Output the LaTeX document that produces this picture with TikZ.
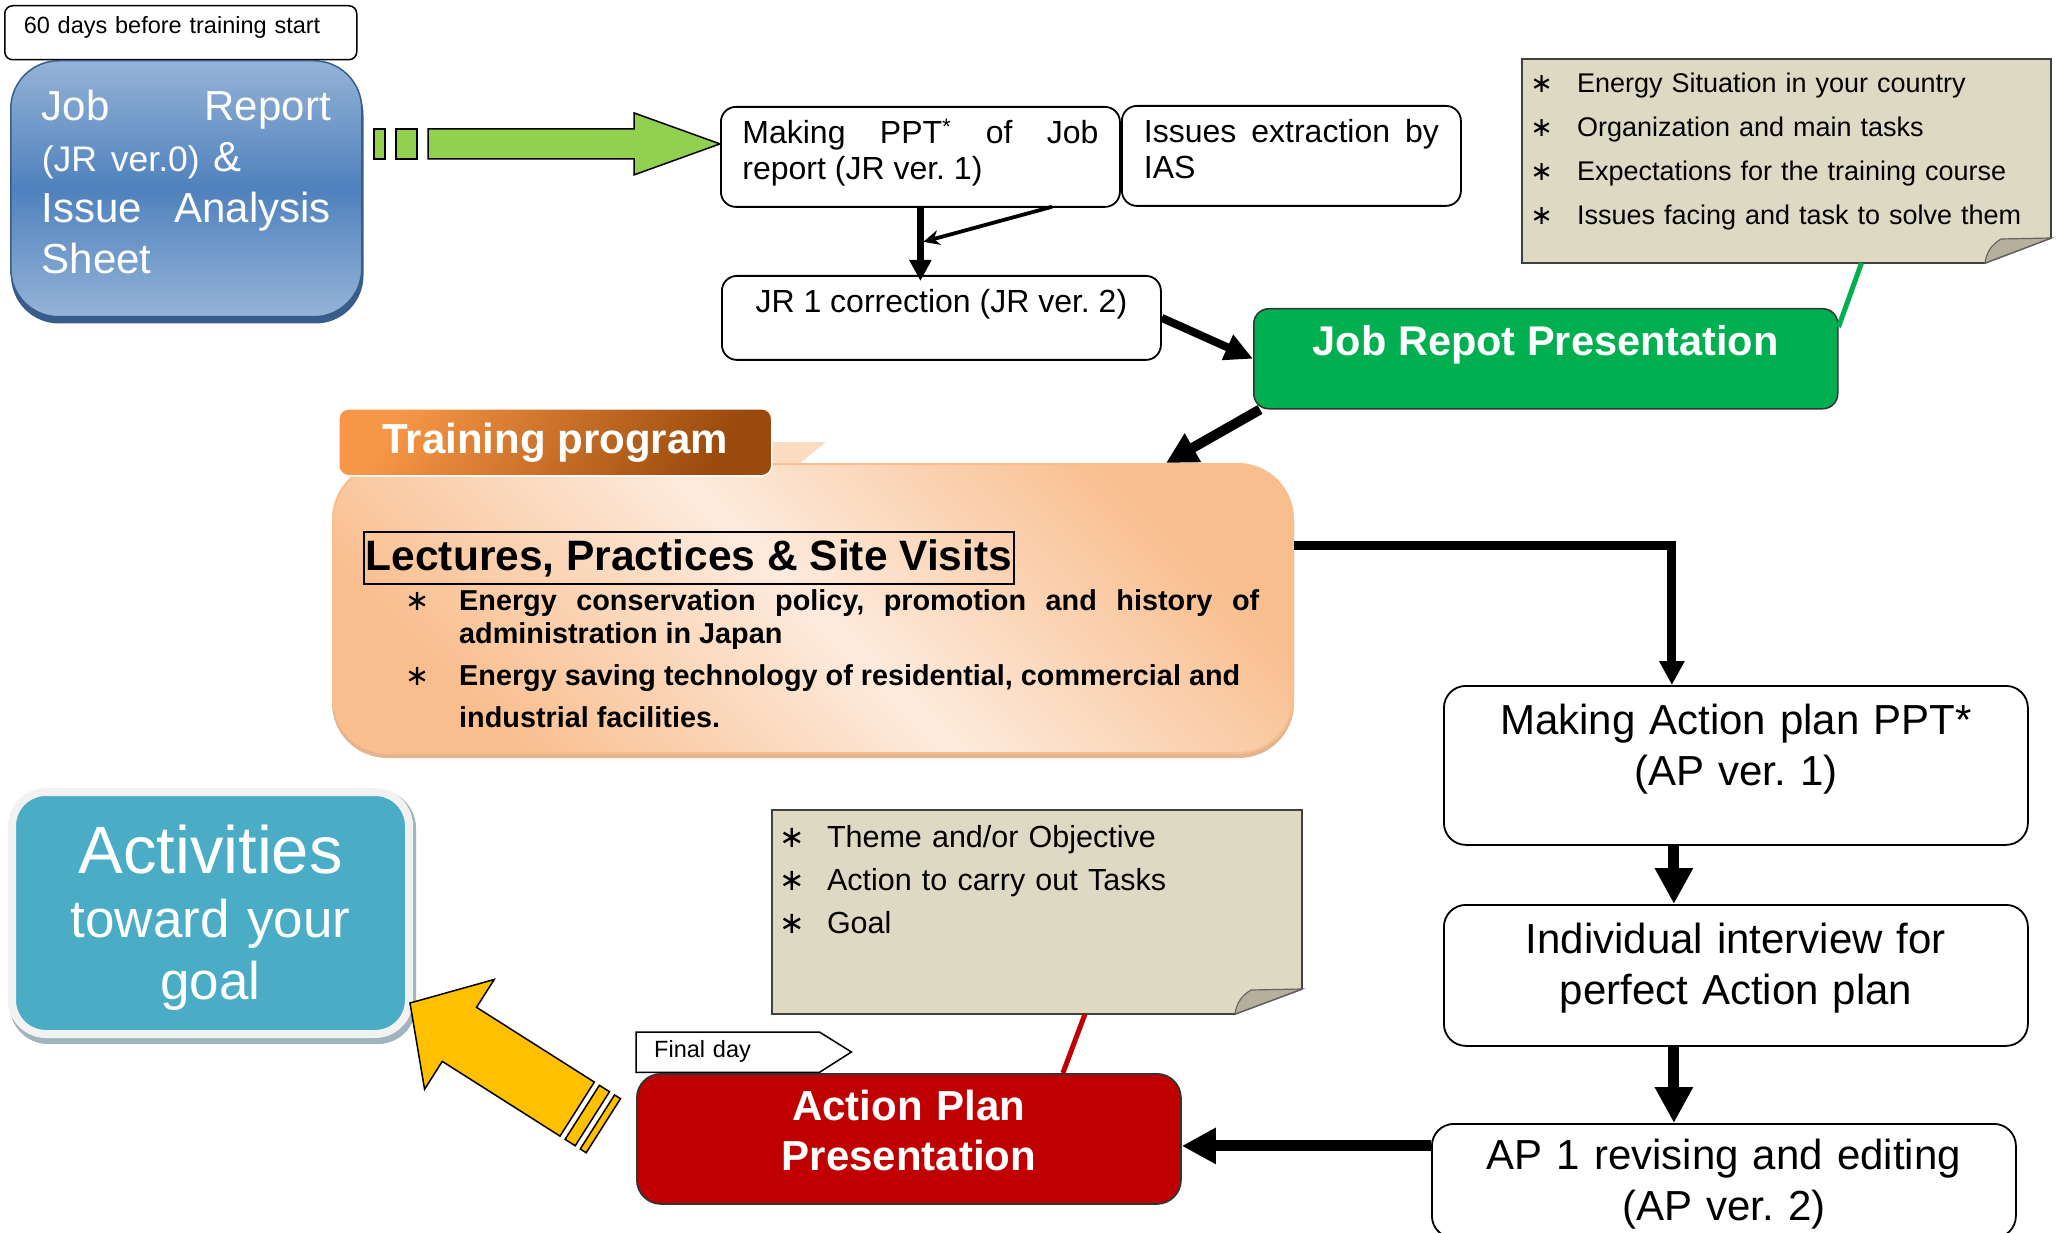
\documentclass[tikz,border=0pt]{standalone}
\usepackage{fontspec}
\setmainfont{Liberation Sans}
\newfontfamily\symfont{DejaVu Sans}
\usetikzlibrary{positioning, arrows.meta, calc, backgrounds}
\frenchspacing

\definecolor{jrblue}{HTML}{4F81BD}
\definecolor{jrbluelt}{HTML}{95B3D7}
\definecolor{jrblueedge}{HTML}{385D8A}
\definecolor{arrowgreen}{HTML}{92D050}
\definecolor{presgreen}{HTML}{00B050}
\definecolor{notetan}{HTML}{DDD9C3}
\definecolor{notefold}{HTML}{B5B09B}
\definecolor{taborange}{HTML}{F79646}
\definecolor{tabbrown}{HTML}{9A4A0C}
\definecolor{peachdk}{HTML}{F9BE8E}
\definecolor{peachlt}{HTML}{FDEBDD}
\definecolor{peachsh}{HTML}{E3B48E}
\definecolor{actteal}{HTML}{4BACC6}
\definecolor{actshadow}{HTML}{9FB4BD}
\definecolor{presred}{HTML}{C00000}
\definecolor{goalyellow}{HTML}{FFC000}

\newcommand{\fsz}[2]{\fontsize{#1}{#2}\selectfont}
\newcommand{\bul}[2]{\leavevmode\hspace*{#1pt}\llap{{\symfont\mdseries ∗}\hspace{#2pt}}}

\begin{document}
\begin{tikzpicture}[x=1pt, y=-1pt,
    tl/.style={anchor=north west, inner ysep=0pt},
    jrbox/.style={tl, draw, line width=1.8pt, rounded corners=15pt, font=\fsz{32}{36}},
    apbox/.style={tl, draw, line width=1.8pt, rounded corners=22pt, minimum width=584pt, text width=540pt, inner xsep=22pt, align=center, font=\fsz{42}{51}},
    notebox/.style={fill=notetan, draw=black!75, line width=1.8pt},
    fold/.style={fill=notefold, draw=black!60, line width=1.2pt},
    flow/.style 2 args={line width=#1pt, -{Triangle[width=#2pt, length=#2pt]}}]
    \useasboundingbox (0,0) rectangle (2057,1233);

    \node[tl, draw, line width=1.5pt, rounded corners=8pt, minimum width=352pt, text width=314pt, inner xsep=19pt, text height=28pt, text depth=26pt, align=left, font=\fsz{23.5}{28}] (days) at (4,5) {60 days before training start};
    \node[tl, minimum width=351pt, text width=289pt, inner xsep=31pt, text height=60pt, text depth=196pt, rounded corners=48pt, draw=jrblueedge, line width=1.5pt, top color=jrbluelt, bottom color=jrbluelt, middle color=jrblue, text=white, align=left, font=\fsz{42}{51}] (jr0) at (10,60) {Job\hfill Report\\{\fsz{35.5}{51}(JR ver.0)} \&\\Issue\hfill Analysis\\Sheet};
    \begin{scope}[on background layer]
        \fill[jrblueedge, rounded corners=48pt] ([shift={(1,7)}]jr0.north west) rectangle ([shift={(1,6)}]jr0.south east);
    \end{scope}

    \node[jrbox, minimum width=399pt, text width=356pt, inner xsep=21.5pt, text height=37pt, text depth=63pt, align=justify] (mk) at (720,106) {Making PPT\textsuperscript{*} of Job\linebreak report (JR ver. 1)};
    \node[jrbox, minimum width=339pt, text width=295pt, inner xsep=22pt, text height=37pt, text depth=63pt, align=justify] (ias) at (1121,105) {Issues extraction by\linebreak IAS};
    \node[jrbox, minimum width=439pt, inner xsep=10pt, text height=37pt, text depth=47pt] (jr2) at (721,275) {JR 1 correction (JR ver. 2)};
    \node[tl, minimum width=584pt, text height=47pt, text depth=53pt, rounded corners=15pt, fill=presgreen, draw=black!80, line width=1.5pt, text=white, font=\bfseries\fsz{41.5}{48}] (jrp) at (1253,308) {Job Repot Presentation};

    \node[tl, outer sep=0pt, minimum width=529pt, text width=481pt, inner xsep=24pt, text height=34pt, text depth=170pt, align=left, font=\fsz{27}{44}] (n1) at (1522,59) {\bul{31}{24}Energy Situation in your country\\\bul{31}{24}Organization and main tasks\\\bul{31}{24}Expectations for the training course\\\bul{31}{24}Issues facing and task to solve them};
    \begin{scope}[on background layer]
        \draw[notebox] (n1.north west) -- (n1.north east) -- ([yshift=25pt]n1.south east) -- ([xshift=-66pt]n1.south east) -- (n1.south west) -- cycle;
        \draw[fold] ([xshift=-66pt]n1.south east) to[bend left=25] ([shift={(-50pt,24pt)}]n1.south east) -- ([yshift=25pt]n1.south east) -- cycle;
    \end{scope}
    \draw[presgreen, line width=5pt] ([yshift=-19pt]jrp.north east) -- ([xshift=75pt]n1.south);

    \coordinate (gtip) at ([yshift=13pt]mk.west);
    \filldraw[fill=arrowgreen, line width=1.5pt] (gtip) -- ++(-86,-31) -- ++(0,16) -- ++(-206,0) -- ++(0,30) -- ++(206,0) -- ++(0,16) -- cycle;
    \filldraw[fill=arrowgreen, line width=1.5pt] ($(gtip)+(-303,-15)$) rectangle ++(-21,30) ($(gtip)+(-335,-15)$) rectangle ++(-11,30);

    \draw[flow={7}{21}, shorten >=-6pt] (mk.south) -- (mk.south |- jr2.north);
    \coordinate (join) at ([shift={(3,34)}]mk.south);
    \draw[line width=3.8pt, -{Stealth[length=16pt, width=15pt]}] ([xshift=-69pt]ias.south west) -- (join);
    \draw[line width=8pt, -{Triangle[width=26pt, length=28pt]}] (jr2.east) -- (jrp.west);

    \node[tl, minimum width=960pt, minimum height=289pt, rounded corners=55pt, draw=peachdk, line width=2pt, left color=peachdk, right color=peachdk, middle color=peachlt, shading angle=135] (train) at (332,463) {};
    \begin{scope}[on background layer]
        \fill[peachsh, rounded corners=55pt] ([yshift=-4pt]train.north west) rectangle ([yshift=-4pt]train.south east);
    \end{scope}
    \fill[peachdk!55] (771,442) -- (826,442) -- (800,463) -- (771,463) -- cycle;
    \node[tl, minimum width=433pt, text height=45pt, text depth=22pt, inner xsep=42pt, rounded corners=10pt, left color=taborange, right color=tabbrown, shading angle=60, draw=white, line width=1.5pt, text=white, font=\bfseries\fsz{42}{50}] (tab) at (338,408) {Training program};
    \node[tl, draw, line width=1.5pt, minimum width=650pt, inner xsep=2pt, text height=39pt, text depth=13pt, font=\bfseries\fsz{42.5}{48}] (lect) at (363,531) {Lectures, Practices \& Site Visits};
    \node[anchor=base west, inner sep=0pt, text width=800pt, align=justify, font=\bfseries\fsz{28.8}{33}] (topics) at (459,610) {\bul{0}{30}Energy conservation policy, promotion and history of\linebreak administration in Japan\\[9pt]\bul{0}{30}Energy saving technology of residential, commercial and\\[9pt]industrial facilities.};
    \draw[flow={10}{31}] ([xshift=7pt]jrp.south west) -- ([xshift=-128pt]train.north east);

    \node[apbox, text height=49pt, text depth=110pt] (ap1) at (1443,685) {Making Action plan PPT*\\(AP ver. 1)};
    \node[apbox, text height=49pt, text depth=92pt] (ap2) at (1443,904) {Individual interview for\\perfect Action plan};
    \node[apbox, text height=46pt, text depth=68pt] (ap3) at (1431,1123) {AP 1 revising and editing\\(AP ver. 2)};
    \draw[flow={9}{24}] ([yshift=63pt]train.east) -| ([xshift=-64pt]ap1.north);
    \draw[flow={11}{36}] ([xshift=-62pt]ap1.south) -- ([xshift=-62pt]ap2.north);
    \coordinate (ap2out) at ([xshift=-62pt]ap2.south);
    \draw[flow={11}{36}] (ap2out) -- (ap2out |- ap3.north);

    \node[tl, minimum width=183pt, text width=147pt, inner xsep=18pt, text height=25pt, text depth=15pt, align=left, font=\fsz{23.5}{28}] (fday) at (636,1032) {Final day};
    \draw[line width=1.5pt] (fday.north west) -- (fday.north east) -- ++(32,20) -- (fday.south east) -- (fday.south west) -- cycle;
    \node[tl, minimum width=544pt, text width=500pt, inner xsep=22pt, text height=47pt, text depth=83pt, rounded corners=24pt, fill=presred, draw=black!80, line width=1.8pt, text=white, align=center, font=\bfseries\fsz{42}{50}] (app) at (636,1073) {Action Plan\\Presentation};
    \coordinate (apin) at ([yshift=-7pt]app.east);
    \draw[flow={11}{34}] (ap3.west |- apin) -- (apin);

    \node[tl, outer sep=0pt, minimum width=530pt, text width=482pt, inner xsep=24pt, text height=37pt, text depth=167pt, align=left, font=\fsz{30.5}{43}] (n2) at (772,810) {\bul{31}{22}Theme and/or Objective\\\bul{31}{22}Action to carry out Tasks\\\bul{31}{22}Goal};
    \begin{scope}[on background layer]
        \draw[notebox] (n2.north west) -- (n2.north east) -- ([yshift=25pt]n2.south east) -- ([xshift=-67pt]n2.south east) -- (n2.south west) -- cycle;
        \draw[fold] ([xshift=-67pt]n2.south east) to[bend left=25] ([shift={(-51pt,24pt)}]n2.south east) -- ([yshift=25pt]n2.south east) -- cycle;
    \end{scope}
    \draw[presred, line width=5pt] ([xshift=154pt]app.north) -- ([xshift=48pt]n2.south);

    \node[tl, outer sep=0pt, minimum width=397pt, text width=380pt, inner xsep=8.5pt, text height=81pt, text depth=161pt, rounded corners=34pt, fill=actteal, draw=black!5, line width=8pt, text=white, align=center, font=\fsz{53}{62}] (act) at (12,792) {{\fsz{67}{67}Activities}\\[2pt]toward your\\goal};
    \begin{scope}[on background layer]
        \fill[actshadow, rounded corners=38pt] ([shift={(-2,-2)}]act.north west) rectangle ([shift={(7,10)}]act.south east);
    \end{scope}
    \coordinate (goaltip) at ([shift={(1,-31)}]act.south east);
    \begin{scope}[shift={(goaltip)}, rotate=-32.4]
        \filldraw[fill=goalyellow, line width=1.5pt] (0,0) -- (58.5,-65) -- (58.5,-32) -- (198,-32) -- (198,32) -- (58.5,32) -- (58.5,65) -- cycle;
        \filldraw[fill=goalyellow, line width=1.5pt] (204,-32) rectangle (216,32) (222,-32) rectangle (229,32);
    \end{scope}
\end{tikzpicture}
\end{document}
